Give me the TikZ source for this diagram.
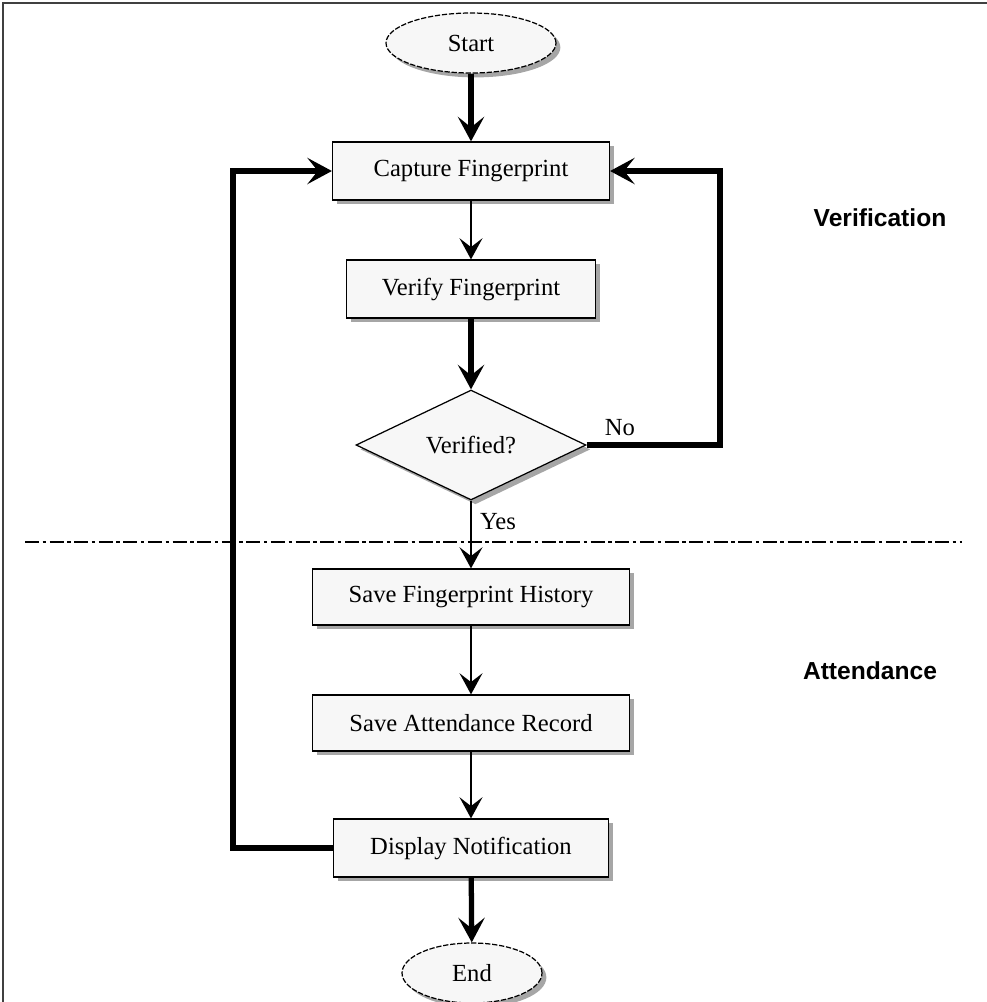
\documentclass[tikz,border=0pt]{standalone}
\usepackage{fontspec}
\setmainfont{Liberation Serif}
\setsansfont{Liberation Sans}
\usetikzlibrary{shapes.geometric,arrows.meta,shadows}

\tikzset{
  procbox/.style={draw=black, line width=0.7pt, fill=gray!6, inner sep=0pt,
    drop shadow={shadow xshift=2.5pt, shadow yshift=-2.5pt, fill=gray!70, opacity=1},
    font=\fontsize{14}{16}\selectfont},
  termnode/.style={procbox, ellipse, dashed, dash pattern=on 3pt off 1pt},
  decnode/.style={procbox, diamond},
  flowtext/.style={font=\fontsize{14}{16}\selectfont},
  thinflow/.style={line width=1.7pt, -{Stealth[length=12pt,width=13pt,inset=5pt]}},
  thickflow/.style={line width=3pt, -{Stealth[length=14pt,width=15pt,inset=6pt]}},
  partlabel/.style={font=\sffamily\bfseries\fontsize{14}{16}\selectfont}
}

\begin{document}
\begin{tikzpicture}[x=0.02cm, y=-0.02cm]
      \useasboundingbox (0,0) rectangle (987,1002);
      % Frame
      \draw[line width=1.2pt, black!75] (3,1002) -- (3,3) -- (987,3);

      % Nodes
      \node[termnode, minimum width=3.4cm, minimum height=1.2cm] (start) at (471,43) {Start};
      \node[procbox, minimum width=5.54cm, minimum height=1.16cm] (capture) at (471,171) {Capture Fingerprint};
      \node[procbox, minimum width=4.98cm, minimum height=1.16cm] (verify) at (471,289) {Verify Fingerprint};
      \node[decnode, minimum width=4.6cm, minimum height=2.2cm] (verified) at (471,445) {Verified?};
      \node[procbox, minimum width=6.34cm, minimum height=1.12cm] (savehist) at (471,597) {Save Fingerprint History};
      \node[procbox, minimum width=6.34cm, minimum height=1.12cm] (saveatt) at (471,723) {Save Attendance Record};
      \node[procbox, minimum width=5.5cm, minimum height=1.16cm] (notify) at (471,848) {Display Notification};
      \node[termnode, minimum width=2.8cm, minimum height=1.2cm] (end) at (472,973) {End};

      % Section labels
      \node[partlabel] (verlab) at (880,218) {Verification};
      \node[partlabel] (attlab) at (870,671) {Attendance};
      \node[flowtext] (nolab) at (620,428) {No};
      \node[flowtext] (yeslab) at (498,522) {Yes};

      % Separator
      \coordinate (sepl) at (25,542);
      \coordinate (sepr) at (962,542);
      \draw[line width=1.5pt, dash pattern=on 8pt off 2pt on 2pt off 2pt] (sepl) -- (sepr);

      % Arcs
      \draw[thickflow] (start) -- (capture);
      \draw[thinflow] (capture) -- (verify);
      \draw[thickflow] (verify) -- (verified);
      \coordinate (nocorner) at (720,445);
      \draw[thickflow] (verified.east) -- (nocorner) |- (capture.east);
      \draw[thinflow] (verified.south) -- (savehist.north);
      \draw[thinflow] (savehist) -- (saveatt);
      \draw[thinflow] (saveatt) -- (notify);
      \draw[thickflow] (notify) -- (end);
      \coordinate (loopcorner) at (233,848);
      \draw[thickflow] (notify.west) -- (loopcorner) |- (capture.west);
\end{tikzpicture}
\end{document}
